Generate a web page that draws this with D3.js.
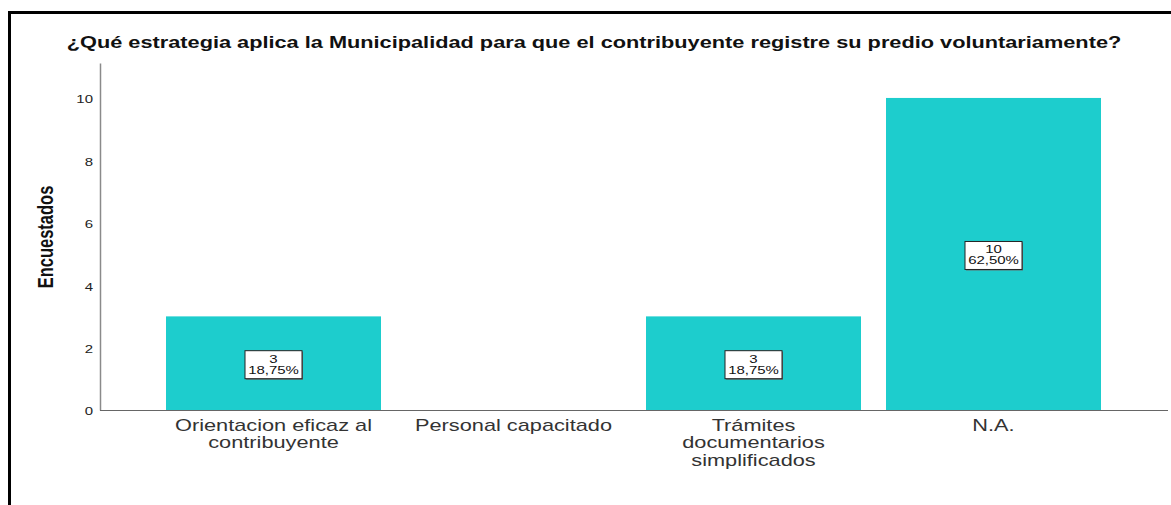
<!DOCTYPE html>
<html><head><meta charset="utf-8">
<script src="https://cdn.jsdelivr.net/npm/d3@7"></script>
<style>body{margin:0;background:#fff}svg{display:block}</style>
</head><body>
<svg id="c" width="1171" height="505"></svg>
<script>
const categories = ["Orientacion eficaz al|contribuyente", "Personal capacitado", "Trámites|documentarios|simplificados", "N.A."];
const counts = [3, 0, 3, 10];
const percents = ["18,75%", "", "18,75%", "62,50%"];
const yTicks = [0, 2, 4, 6, 8, 10];
const title = "¿Qué estrategia aplica la Municipalidad para que el contribuyente registre su predio voluntariamente?";
const yTitle = "Encuestados";

const SX = 1.36; // horizontal stretch of the original picture's text
const FONT = "Liberation Sans, Arial, Helvetica, sans-serif";

const svg = d3.select("#c");
svg.append("rect").attr("width",1171).attr("height",505).attr("fill","#fff");
// frame
svg.append("line").attr("x1",8).attr("x2",1171).attr("y1",12.5).attr("y2",12.5).attr("stroke","#000").attr("stroke-width",3);
svg.append("line").attr("x1",9.5).attr("x2",9.5).attr("y1",11).attr("y2",505).attr("stroke","#000").attr("stroke-width",3);

const x = d3.scaleBand().domain(categories).range([153.5,1113.5]).paddingInner(25/240).paddingOuter(12.5/240);
const y = d3.scaleLinear().domain([0,11.12]).range([410,63]);

svg.append("text").attr("transform",`translate(594,48) scale(${SX},1)`).attr("text-anchor","middle")
  .attr("font-family",FONT).attr("font-weight","bold").attr("font-size",16)
  .attr("fill","#111").text(title);

// y axis
const ya = svg.append("g").attr("transform","translate(100,0)").call(d3.axisLeft(y).tickValues(yTicks).tickSize(0).tickFormat(""));
ya.select(".domain").attr("stroke","#8a8a8a").attr("stroke-width",1.5);
ya.selectAll(".tick").each(function(d){
  const g = d3.select(this);
  g.select("text").remove();
  g.append("text").attr("transform",`translate(-7,0) scale(${SX},1)`).attr("text-anchor","end").attr("dy","0.45em")
    .attr("font-family",FONT).attr("font-size",11).attr("fill","#222").text(d);
});

svg.append("text").attr("transform",`translate(53,237) scale(${SX},1) rotate(-90)`).attr("text-anchor","middle")
  .attr("font-family",FONT).attr("font-weight","bold").attr("font-size",16.5)
  .attr("fill","#111").text(yTitle);

const rows = categories.map((c,i)=>({c,v:counts[i],p:percents[i]}));

// bars
svg.selectAll("rect.bar").data(rows.filter(d=>d.v>0))
  .enter().append("rect").attr("class","bar")
  .attr("x",d=>x(d.c)).attr("width",x.bandwidth())
  .attr("y",d=>y(d.v)).attr("height",d=>y(0)-y(d.v))
  .attr("fill","#1dcdcd");

// x axis
const xa = svg.append("g").attr("transform","translate(0,410)").call(d3.axisBottom(x).tickSize(0).tickFormat(""));
xa.select(".domain").remove();
svg.append("line").attr("x1",100).attr("x2",1168).attr("y1",410.5).attr("y2",410.5).attr("stroke","#666").attr("stroke-width",1.2);

xa.selectAll(".tick").each(function(d){
  const g = d3.select(this);
  g.select("text").remove();
  const t = g.append("text").attr("transform",`scale(${SX},1)`).attr("text-anchor","middle").attr("font-family",FONT)
    .attr("font-size",16).attr("fill","#333");
  d.split("|").forEach((ln,i)=>{ t.append("tspan").attr("x",0).attr("y",21+i*17.5).text(ln); });
});

// data labels
const lab = svg.selectAll("g.lab").data(rows.filter(d=>d.v>0))
  .enter().append("g").attr("class","lab")
  .attr("transform",d=>`translate(${x(d.c)+x.bandwidth()/2},${(y(d.v)+y(0))/2+1.5})`);
lab.append("rect").attr("x",-28.5+1).attr("y",-14+1).attr("width",57).attr("height",28).attr("fill","#666");
lab.append("rect").attr("x",-28.5).attr("y",-14).attr("width",57).attr("height",28).attr("fill","#fff").attr("stroke","#222").attr("stroke-width",1);
lab.append("text").attr("transform",`scale(${SX},1)`).attr("text-anchor","middle").attr("font-family",FONT).attr("font-size",11).attr("fill","#111")
  .each(function(d){
    const t=d3.select(this);
    t.append("tspan").attr("x",0).attr("y",-2).text(d.v);
    t.append("tspan").attr("x",0).attr("y",9).text(d.p);
  });
</script>
</body></html>
